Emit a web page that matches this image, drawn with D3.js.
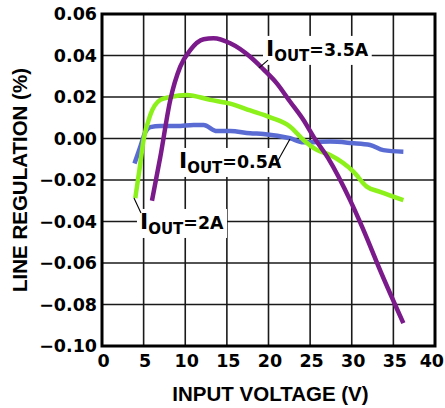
<!DOCTYPE html>
<html>
<head>
<meta charset="utf-8">
<script src="https://cdn.jsdelivr.net/npm/d3@7"></script>
<style>
  body { margin: 0; background: #fff; }
  svg { display: block; }
</style>
</head>
<body>
<div id="chart"></div>
<script>
// Données (tension d'entrée en V, régulation en %)
const vin05 = [3.9, 4.6, 5.2, 5.8, 7, 9, 11, 12.2, 13.8, 15.4, 17.8, 19.4, 22.6, 24.2, 27.4, 30, 32.2, 33.8, 36.2];
const reg05 = [-0.012, -0.004, 0.003, 0.0055, 0.006, 0.006, 0.0065, 0.0065, 0.0036, 0.0036, 0.0025, 0.0022, 0.0001, -0.0018, -0.0015, -0.0022, -0.0031, -0.0056, -0.0064];

const vin2 = [4, 4.5, 5, 5.8, 7, 8.2, 10.2, 13, 15.4, 17.8, 20.2, 22.6, 24.2, 25.8, 27.4, 30.2, 31.8, 33.4, 36.2];
const reg2 = [-0.0287, -0.015, -0.0006, 0.0113, 0.0186, 0.020, 0.021, 0.0186, 0.0168, 0.0135, 0.0102, 0.0057, -0.0007, -0.0055, -0.008, -0.016, -0.0232, -0.0257, -0.0297];

const vin35 = [6, 7, 8.2, 9.4, 10.6, 12.2, 13.4, 15.4, 17.8, 19.4, 21, 22.6, 24.2, 25.4, 27.2, 29.8, 31.4, 33.4, 36.2];
const reg35 = [-0.03, -0.009, 0.0185, 0.0346, 0.0426, 0.0478, 0.0483, 0.0459, 0.0394, 0.0333, 0.0266, 0.0177, 0.0089, 0.0009, -0.0097, -0.0297, -0.044, -0.0634, -0.089];

const xTicks = [0, 5, 10, 15, 20, 25, 30, 35, 40];
const yTicks = [0.06, 0.04, 0.02, 0.00, -0.02, -0.04, -0.06, -0.08, -0.10];

const seriesNames = ["0.5A", "2A", "3.5A"];
const seriesColors = ["#5a6cd4", "#8cf01a", "#7b1a8a"];

// Étiquettes : position du texte et du trait de rappel (en unités du graphique)
const labelX = [9.25, 4.56, 19.7];
const labelY = [-0.0142, -0.0436, 0.0398];
const leaderFrom = [[20.9, -0.0123], [3.84, -0.0287], [18.86, 0.034]];
const leaderTo = [[22.58, -0.0002], [4.68, -0.0359], [19.94, 0.0378]];

(function() {
    const width = 445, height = 408;
    const margin = { top: 14, right: 10, bottom: 62, left: 102 };
    const innerW = 333, innerH = 332;

    const svg = d3.select("#chart").append("svg")
        .attr("width", width)
        .attr("height", height);

    const g = svg.append("g")
        .attr("transform", `translate(${margin.left},${margin.top})`);

    const x = d3.scaleLinear().domain([0, 40]).range([0, innerW]);
    const y = d3.scaleLinear().domain([-0.10, 0.06]).range([innerH, 0]);

    const tickFont = "'DejaVu Sans', sans-serif";
    const titleFont = "'Liberation Sans', Arial, sans-serif";

    // Grille
    g.append("g").selectAll("line")
        .data(xTicks.slice(1, -1))
        .join("line")
        .attr("x1", d => x(d)).attr("x2", d => x(d))
        .attr("y1", 0).attr("y2", innerH)
        .attr("stroke", "#1a1a1a").attr("stroke-width", 1.6);

    g.append("g").selectAll("line")
        .data(yTicks.slice(1, -1))
        .join("line")
        .attr("x1", 0).attr("x2", innerW)
        .attr("y1", d => y(d)).attr("y2", d => y(d))
        .attr("stroke", "#1a1a1a").attr("stroke-width", 1.6);

    // Graduations
    g.append("g").selectAll("text")
        .data(yTicks)
        .join("text")
        .attr("x", -5)
        .attr("y", d => y(d))
        .attr("dy", "0.36em")
        .attr("text-anchor", "end")
        .attr("font-family", tickFont)
        .attr("font-weight", "bold")
        .attr("font-size", 17.5)
        .text(d => d3.format(".2f")(d));

    // le dernier libellé (40) est calé à droite pour rester dans la fenêtre
    g.append("g").selectAll("text")
        .data(xTicks)
        .join("text")
        .attr("x", (d, i) => i === xTicks.length - 1 ? width - margin.left - 1 : x(d) + 1.5)
        .attr("y", innerH + 21)
        .attr("text-anchor", (d, i) => i === xTicks.length - 1 ? "end" : "middle")
        .attr("font-family", tickFont)
        .attr("font-weight", "bold")
        .attr("font-size", 17.5)
        .text(d => d);

    // Titres des axes
    svg.append("text")
        .attr("x", margin.left + innerW / 2 + 2)
        .attr("y", 401)
        .attr("text-anchor", "middle")
        .attr("font-family", titleFont)
        .attr("font-weight", "bold")
        .attr("font-size", 20.5)
        .text("INPUT VOLTAGE (V)");

    svg.append("text")
        .attr("transform", `translate(27,${margin.top + innerH / 2}) rotate(-90)`)
        .attr("text-anchor", "middle")
        .attr("font-family", titleFont)
        .attr("font-weight", "bold")
        .attr("font-size", 20.5)
        .text("LINE REGULATION (%)");

    // Étiquettes avec fond blanc
    const labelsBg = g.append("g");
    const labels = g.append("g");

    const line = d3.line()
        .x(d => x(d[0]))
        .y(d => y(d[1]))
        .curve(d3.curveMonotoneX);

    const seriesData = [
        d3.zip(vin05, reg05),
        d3.zip(vin2, reg2),
        d3.zip(vin35, reg35)
    ];

    seriesNames.forEach((name, i) => {
        const t = labels.append("text")
            .attr("x", x(labelX[i]))
            .attr("y", y(labelY[i]))
            .attr("font-family", tickFont)
            .attr("font-weight", "bold");
        t.append("tspan").attr("font-size", 22).text("I");
        t.append("tspan").attr("font-size", 15).attr("dy", 5).text("OUT");
        t.append("tspan").attr("font-size", 17.4).attr("dy", -5).text("=" + name);

        const bb = t.node().getBBox();
        labelsBg.append("rect")
            .attr("x", bb.x - 3)
            .attr("y", bb.y)
            .attr("width", bb.width + 6)
            .attr("height", bb.height)
            .attr("fill", "#fff");

        labels.append("line")
            .attr("x1", x(leaderFrom[i][0])).attr("y1", y(leaderFrom[i][1]))
            .attr("x2", x(leaderTo[i][0])).attr("y2", y(leaderTo[i][1]))
            .attr("stroke", "#000").attr("stroke-width", 1.1);
    });

    // Courbes
    g.append("g").selectAll("path")
        .data(seriesData)
        .join("path")
        .attr("d", line)
        .attr("fill", "none")
        .attr("stroke", (d, i) => seriesColors[i])
        .attr("stroke-width", 4.5);

    labels.raise();

    // Cadre
    g.append("rect")
        .attr("width", innerW)
        .attr("height", innerH)
        .attr("fill", "none")
        .attr("stroke", "#000")
        .attr("stroke-width", 3);
})();
</script>
</body>
</html>
